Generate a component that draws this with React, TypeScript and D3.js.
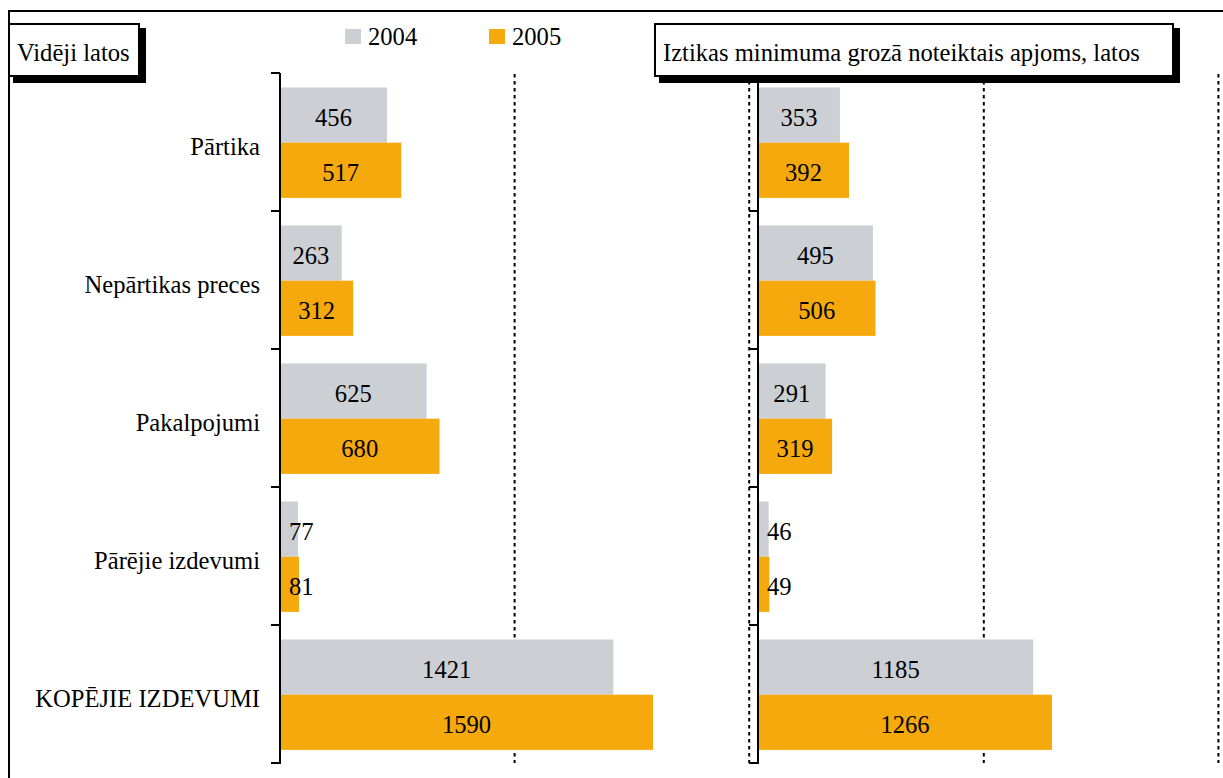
import React from "react";
import * as d3 from "d3";

const categories = ["Pārtika", "Nepārtikas preces", "Pakalpojumi", "Pārējie izdevumi", "KOPĒJIE IZDEVUMI"];
const seriesNames = ["2004", "2005"];
const avg2004 = [456, 263, 625, 77, 1421];
const avg2005 = [517, 312, 680, 81, 1590];
const min2004 = [353, 495, 291, 46, 1185];
const min2005 = [392, 506, 319, 49, 1266];
const gridTicks = [1000, 2000, 3000, 4000];
const leftTitle = "Vidēji latos";
const rightTitle = "Iztikas minimuma grozā noteiktais apjoms, latos";

const COLORS = ["#CCCFD4", "#F5A90C"];
const FONT = "'Liberation Serif', 'Times New Roman', Times, serif";
const FS = 24.6;

const W = 1223;
const H = 778;

export default function App() {
  const y = d3.scaleBand<string>().domain(categories).range([73, 763]);
  const bw = y.bandwidth();
  const xL = d3.scaleLinear().domain([0, 4000]).range([280, 280 + 4000 * 0.2346]);
  const xR = d3.scaleLinear().domain([0, 2000]).range([758, 758 + 2000 * 0.2322]);

  const panels = [
    { x: xL, data: [avg2004, avg2005] },
    { x: xR, data: [min2004, min2005] },
  ];

  const boundaries = categories.map((c) => y(c) as number).concat([763]);

  return (
    <svg
      width={W}
      height={H}
      style={{ position: "absolute", left: 0, top: 0, background: "#fff" }}
      fontFamily={FONT}
    >
      <rect x={0} y={0} width={W} height={H} fill="#fff" />
      {/* frame */}
      <line x1={9} y1={11} x2={W} y2={11} stroke="#000" strokeWidth={2} />
      <line x1={9} y1={10} x2={9} y2={H} stroke="#000" strokeWidth={2} />

      {/* dotted gridlines */}
      {gridTicks.map((t) => (
        <line
          key={t}
          x1={xL(t)}
          x2={xL(t)}
          y1={74}
          y2={763}
          stroke="#000"
          strokeWidth={2}
          strokeDasharray="3.5,3.5"
        />
      ))}

      {/* bars */}
      {panels.map((p, pi) =>
        categories.map((c, ci) =>
          p.data.map((series, si) => {
            const v = series[ci];
            const x0 = p.x(0);
            const x1 = p.x(v);
            const by = (y(c) as number) + bw * 0.105 + si * bw * 0.4;
            const bh = bw * 0.4;
            const small = x1 - x0 < 30;
            return (
              <g key={`${pi}-${ci}-${si}`}>
                <rect x={x0} y={by} width={x1 - x0} height={bh} fill={COLORS[si]} />
                <text
                  x={small ? x0 + 9 : (x0 + x1) / 2}
                  y={by + bh / 2 + 10.5}
                  textAnchor={small ? "start" : "middle"}
                  fontSize={FS}
                  fill="#000"
                >
                  {v}
                </text>
              </g>
            );
          })
        )
      )}

      {/* axes */}
      {panels.map((p, pi) => (
        <g key={`ax${pi}`}>
          <line x1={p.x(0)} x2={p.x(0)} y1={73} y2={764} stroke="#000" strokeWidth={2} />
          {boundaries.map((b, bi) => (
            <line key={bi} x1={p.x(0) - 9} x2={p.x(0)} y1={b} y2={b} stroke="#000" strokeWidth={2} />
          ))}
        </g>
      ))}

      {/* category labels */}
      {categories.map((c) => (
        <text
          key={c}
          x={260}
          y={(y(c) as number) + bw / 2 + 12.5}
          textAnchor="end"
          fontSize={FS}
          fill="#000"
        >
          {c}
        </text>
      ))}

      {/* legend */}
      {seriesNames.map((s, i) => (
        <g key={s} transform={`translate(${345 + i * 144},29)`}>
          <rect x={0} y={0} width={16} height={15} fill={COLORS[i]} />
          <text x={23} y={16} fontSize={FS} fill="#000">
            {s}
          </text>
        </g>
      ))}

      {/* title boxes */}
      {[
        { x: 9, w: 130, t: leftTitle },
        { x: 655, w: 518, t: rightTitle },
      ].map((b, i) => (
        <g key={`box${i}`}>
          <rect x={b.x + 4} y={28} width={b.w + 3} height={55} fill="#000" />
          <rect x={b.x} y={24} width={b.w} height={52} fill="#fff" stroke="#000" strokeWidth={2} />
          <text x={b.x + 8} y={61} fontSize={FS} fill="#000">
            {b.t}
          </text>
        </g>
      ))}
    </svg>
  );
}
